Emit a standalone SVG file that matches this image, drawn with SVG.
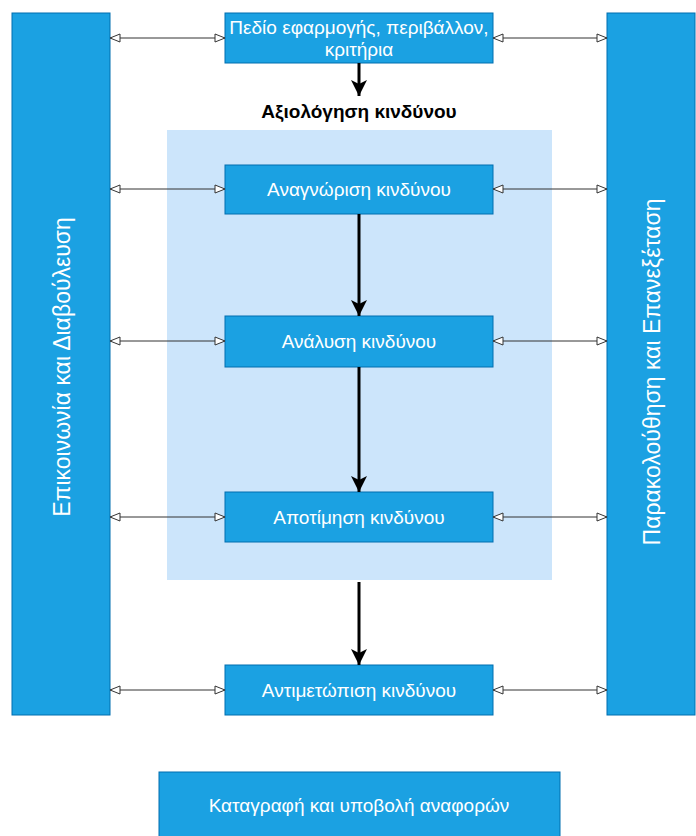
<svg xmlns="http://www.w3.org/2000/svg" width="696" height="836" viewBox="0 0 696 836">
<defs>
<style>
.box{fill:#1ba1e2;stroke:#006eaf;stroke-width:1}
.t{font-family:"Liberation Sans",Arial,sans-serif;fill:#ffffff;font-size:19px;text-anchor:middle}
.vt{font-family:"Liberation Sans",Arial,sans-serif;fill:#ffffff;font-size:23px;text-anchor:middle}
.thin{stroke:#333333;stroke-width:1;fill:none;marker-start:url(#open);marker-end:url(#open)}
.thick{stroke:#000000;stroke-width:3;fill:none;marker-end:url(#solid)}
</style>
<marker id="open" viewBox="0 0 12 10" refX="11" refY="5" markerWidth="12" markerHeight="10" markerUnits="userSpaceOnUse" orient="auto-start-reverse">
<path d="M1,1 L11,5 L1,9 Z" fill="#ffffff" stroke="#333333" stroke-width="1"/>
</marker>
<marker id="solid" viewBox="0 0 18 16" refX="16" refY="8" markerWidth="18" markerHeight="16" markerUnits="userSpaceOnUse" orient="auto">
<path d="M0,0 L16,8 L0,16 L4,8 Z" fill="#000000"/>
</marker>
</defs>
<rect width="696" height="836" fill="#ffffff"/>
<g id="assessment-area">
<rect x="167" y="130" width="385" height="450" fill="#cce5fb"/>
</g>
<g id="communication">
<rect class="box" x="12" y="13" width="98" height="702"/>
<text class="vt" transform="translate(70,367) rotate(-90)">Επικοινωνία και Διαβούλευση</text>
</g>
<g id="monitoring">
<rect class="box" x="607" y="13" width="88" height="702"/>
<text class="vt" transform="translate(660,372) rotate(-90)">Παρακολούθηση και Επανεξέταση</text>
</g>
<g id="scope">
<rect class="box" x="225" y="13" width="268" height="50"/>
<text class="t" x="359" y="34">Πεδίο εφαρμογής, περιβάλλον,</text>
<text class="t" x="359" y="56">κριτήρια</text>
</g>
<g id="assessment-label">
<text x="359" y="118" font-family="'Liberation Sans',Arial,sans-serif" font-size="19" font-weight="bold" fill="#000000" text-anchor="middle">Αξιολόγηση κινδύνου</text>
</g>
<g id="identification">
<rect class="box" x="225" y="165" width="268" height="49"/>
<text class="t" x="359" y="196">Αναγνώριση κινδύνου</text>
</g>
<g id="analysis">
<rect class="box" x="225" y="316" width="268" height="51"/>
<text class="t" x="359" y="348">Ανάλυση κινδύνου</text>
</g>
<g id="evaluation">
<rect class="box" x="225" y="492" width="268" height="50"/>
<text class="t" x="359" y="524">Αποτίμηση κινδύνου</text>
</g>
<g id="treatment">
<rect class="box" x="225" y="665" width="268" height="50"/>
<text class="t" x="359" y="697">Αντιμετώπιση κινδύνου</text>
</g>
<g id="reporting">
<rect class="box" x="159" y="772" width="401" height="70"/>
<text class="t" x="359" y="812">Καταγραφή και υποβολή αναφορών</text>
</g>
<g id="connectors">
<path class="thick" d="M359,63 L359,96"/>
<path class="thick" d="M359,214 L359,316"/>
<path class="thick" d="M359,367 L359,492"/>
<path class="thick" d="M359,582 L359,665"/>
<path class="thin" d="M110,38 L225,38"/>
<path class="thin" d="M493,38 L607,38"/>
<path class="thin" d="M110,189 L225,189"/>
<path class="thin" d="M493,189 L607,189"/>
<path class="thin" d="M110,341 L225,341"/>
<path class="thin" d="M493,341 L607,341"/>
<path class="thin" d="M110,517 L225,517"/>
<path class="thin" d="M493,517 L607,517"/>
<path class="thin" d="M110,690 L225,690"/>
<path class="thin" d="M493,690 L607,690"/>
</g>
</svg>
